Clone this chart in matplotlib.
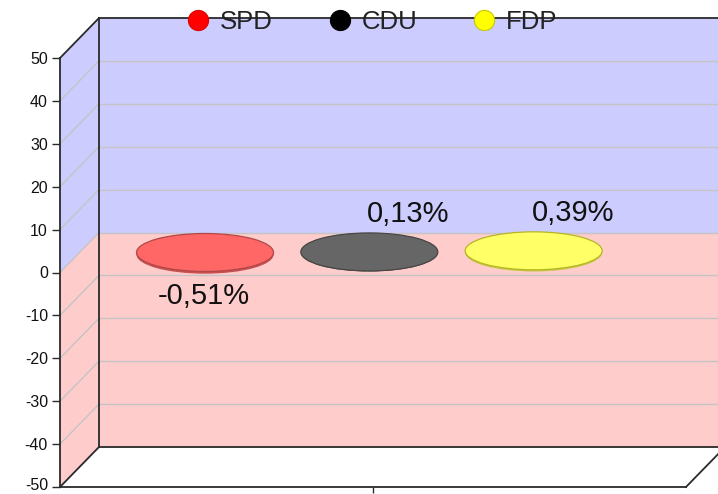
import matplotlib
matplotlib.use('Agg')
import matplotlib.pyplot as plt
from matplotlib.patches import Polygon, Ellipse, Rectangle
from matplotlib.lines import Line2D
from matplotlib.transforms import Affine2D

# ---- data ----
parties = ['SPD', 'CDU', 'FDP']
changes = [-0.51, 0.13, 0.39]
value_labels = ['-0,51%', '0,13%', '0,39%']
bar_colors = ['#ff6666', '#666666', '#ffff66']
bar_sides = ['#c85050', '#505050', '#c8c840']
bar_edges = ['#b04848', '#474747', '#b5b52a']
legend_colors = ['#ff0000', '#000000', '#ffff00']
legend_edges = ['#e00000', '#000000', '#c8c800']
yticks = list(range(-50, 51, 10))
category_labels = ['']

plt.rcParams['font.family'] = ['Liberation Sans', 'DejaVu Sans']
plt.rcParams['axes.unicode_minus'] = False

W, H = 718, 494
fig = plt.figure(figsize=(W / 100, H / 100), dpi=100)
L, R, T, B = 60, 686, 58, 487
ax = fig.add_axes([L / W, (H - B) / H, (R - L) / W, (B - T) / H])
ax.set_xlim(-0.5, 0.5)
ax.set_ylim(-50, 50)
ax.patch.set_visible(False)

px_x = 1.0 / (R - L)
px_y = 100.0 / (B - T)
DX, DY = 39 * px_x, 40 * px_y


def P(x, y, d):
    return (x + d * DX, y + d * DY)


BLUE = '#ccccff'
PINK = '#ffcccc'
GRID = '#c4c4c4'
EDGE = '#2a2a2a'
x0, x1 = -0.5, 0.5

# back wall
ax.add_patch(Polygon([P(x0, 0, 1), P(x1, 0, 1), P(x1, 50, 1), P(x0, 50, 1)],
                     closed=True, fc=BLUE, ec='none', clip_on=False, zorder=0))
ax.add_patch(Polygon([P(x0, -50, 1), P(x1, -50, 1), P(x1, 0, 1), P(x0, 0, 1)],
                     closed=True, fc=PINK, ec='none', clip_on=False, zorder=0))
# side wall
ax.add_patch(Polygon([P(x0, 0, 0), P(x0, 50, 0), P(x0, 50, 1), P(x0, 0, 1)],
                     closed=True, fc=BLUE, ec='none', clip_on=False, zorder=0))
ax.add_patch(Polygon([P(x0, -50, 0), P(x0, 0, 0), P(x0, 0, 1), P(x0, -50, 1)],
                     closed=True, fc=PINK, ec='none', clip_on=False, zorder=0))
# floor
ax.add_patch(Polygon([P(x0, -50, 0), P(x1, -50, 0), P(x1, -50, 1), P(x0, -50, 1)],
                     closed=True, fc='white', ec='none', clip_on=False, zorder=0))

# gridlines
for v in yticks[1:-1]:
    a, b = P(x0, v, 1), P(x1, v, 1)
    ax.plot([a[0], b[0]], [a[1], b[1]], color=GRID, lw=1.0, clip_on=False, zorder=1)
    c = P(x0, v, 0)
    ax.plot([c[0], a[0]], [c[1], a[1]], color=GRID, lw=1.0, clip_on=False, zorder=1)

# edges
edges = [
    (P(x0, -50, 1), P(x0, 50, 1)),
    (P(x0, 50, 1), P(x1, 50, 1)),
    (P(x0, -50, 1), P(x1, -50, 1)),
    (P(x0, 50, 0), P(x0, 50, 1)),
    (P(x0, -50, 0), P(x0, -50, 1)),
    (P(x1, -50, 0), P(x1, -50, 1)),
]
for a, b in edges:
    ax.plot([a[0], b[0]], [a[1], b[1]], color=EDGE, lw=1.3, clip_on=False,
            zorder=2, solid_capstyle='projecting')

# bars (flat cylinders)
gap = 0.2625
offset = -0.037
bw = 137 * px_x
eh = 38 * px_y
for i, v in enumerate(changes):
    xc = offset + (i - 1) * gap
    lo, hi = min(0, v), max(0, v)
    cb = P(xc, lo, 0.5)
    ct = P(xc, hi, 0.5)
    ax.add_patch(Ellipse(cb, bw, eh, fc=bar_sides[i], ec='none',
                         clip_on=False, zorder=3))
    ax.add_patch(Rectangle((cb[0] - bw / 2, cb[1]), bw, hi - lo, fc=bar_sides[i],
                           ec='none', clip_on=False, zorder=3))
    ax.add_patch(Ellipse(ct, bw, eh, fc=bar_colors[i], ec=bar_edges[i], lw=0.9,
                         clip_on=False, zorder=4))
    if v >= 0:
        off = (39, 37.5)
    else:
        off = (-1, -41)
    ax.annotate(value_labels[i], xy=P(xc, v, 0.5), xytext=off,
                textcoords='offset pixels', ha='center', va='center',
                fontsize=21, color='#111111', zorder=5, annotation_clip=False)

# axes spines / ticks
for s in ['top', 'right']:
    ax.spines[s].set_visible(False)
for s in ['left', 'bottom']:
    ax.spines[s].set_color(EDGE)
    ax.spines[s].set_linewidth(1.3)
    ax.spines[s].set_zorder(2)
ax.set_yticks(yticks)
ax.set_yticklabels([str(t) for t in yticks])
ax.tick_params(axis='y', length=5.8, width=1.0, pad=2.9, labelsize=11.5,
               direction='out', color=EDGE, labelcolor='#111111')
ax.set_xticks([0])
ax.set_xticklabels(category_labels)
ax.tick_params(axis='x', length=4.3, width=1.0, direction='out', color=EDGE)

# keep the lowest tick label inside the canvas
for tick in ax.yaxis.get_major_ticks():
    if tick.label1.get_text() == '-50':
        tick.label1.set_transform(tick.label1.get_transform() + Affine2D().translate(0, 3))

# legend
handles = [Line2D([], [], marker='o', linestyle='none', markersize=14.5,
                  markerfacecolor=legend_colors[i], markeredgecolor=legend_edges[i],
                  markeredgewidth=0.8) for i in range(len(parties))]
leg = fig.legend(handles, parties, loc='center',
                 bbox_to_anchor=(372.5 / W, (H - 22) / H), bbox_transform=fig.transFigure,
                 ncol=3, frameon=False, fontsize=18.5, handlelength=0.8,
                 handletextpad=0.45, columnspacing=2.2, borderpad=0, borderaxespad=0)
for t in leg.get_texts():
    t.set_color('#222222')

fig.savefig('out.png', dpi=100)
